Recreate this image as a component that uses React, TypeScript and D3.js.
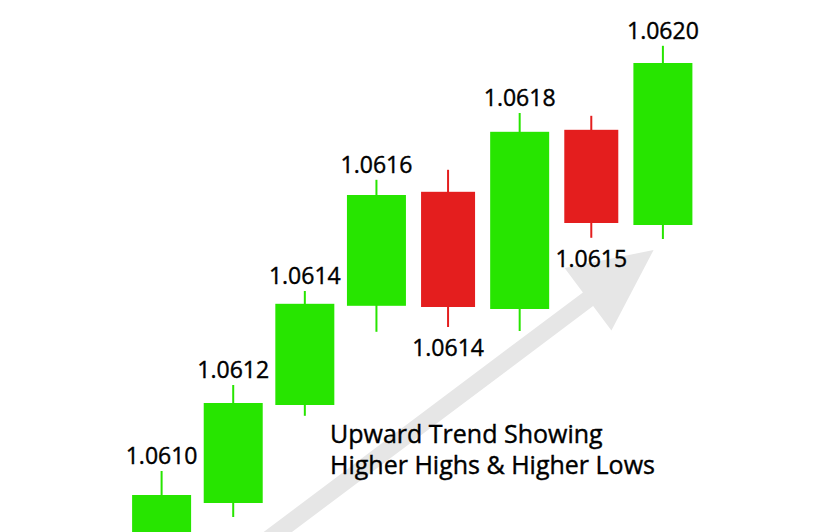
import React from "react";
import * as d3 from "d3";

const W = 834;
const H = 532;

// Candle data (EUR/USD style prices)
const candleIndex = [0, 1, 2, 3, 4, 5, 6, 7];
const opens = [1.060808, 1.06092, 1.061165, 1.061413, 1.061698, 1.061405, 1.061853, 1.061615];
const closes = [1.06094, 1.06117, 1.061418, 1.06169, 1.06141, 1.061848, 1.06162, 1.06202];
const highs = [1.061, 1.061215, 1.06145, 1.061728, 1.061753, 1.061895, 1.061888, 1.062063];
const lows = [1.060778, 1.060885, 1.061138, 1.061348, 1.06136, 1.06135, 1.061583, 1.06158];
const labelTexts = ["1.0610", "1.0612", "1.0614", "1.0616", "1.0614", "1.0618", "1.0615", "1.0620"];

// Trend arrow (index, price) from tail to tip
const arrowIdx = [1.12, 6.87];
const arrowPrice = [1.06078, 1.0615525];

const captionLines = ["Upward Trend Showing", "Higher Highs & Higher Lows"];

const GREEN = "#27E500";
const RED = "#E41E1E";
const ARROW = "#E6E6E6";
const FONT = "'Open Sans', 'Noto Sans', sans-serif";

export default function App() {
  const x = d3.scaleLinear().domain([0, 7]).range([161.6, 662.9]);
  const y = d3.scaleLinear().domain([1.06, 1.0625]).range([871, -129]);

  // arrow geometry
  const tx = x(arrowIdx[1]);
  const ty = y(arrowPrice[1]);
  const sx = x(arrowIdx[0]);
  const sy = y(arrowPrice[0]);
  const len = Math.hypot(tx - sx, ty - sy);
  const ux = (tx - sx) / len;
  const uy = (ty - sy) / len;
  const nx = -uy;
  const ny = ux;
  const headLen = 82;
  const headHalf = 39;
  const shaftHalf = 8.5;
  const bx = tx - headLen * ux;
  const by = ty - headLen * uy;
  const pts: [number, number][] = [
    [sx + shaftHalf * nx, sy + shaftHalf * ny],
    [bx + shaftHalf * nx, by + shaftHalf * ny],
    [bx + headHalf * nx, by + headHalf * ny],
    [tx, ty],
    [bx - headHalf * nx, by - headHalf * ny],
    [bx - shaftHalf * nx, by - shaftHalf * ny],
    [sx - shaftHalf * nx, sy - shaftHalf * ny],
  ];
  const arrowPath = d3.line()(pts) + "Z";

  return (
    <div style={{ position: "absolute", left: 0, top: 0 }}>
      <svg width={W} height={H} style={{ display: "block", background: "#fff" }}>
        <path d={arrowPath} fill={ARROW} />
        {candleIndex.map((i) => {
          const up = closes[i] >= opens[i];
          const color = up ? GREEN : RED;
          const bw = up ? 59 : 54;
          const cx = x(i);
          const top = y(Math.max(opens[i], closes[i]));
          const bot = y(Math.min(opens[i], closes[i]));
          return (
            <g key={i}>
              <line x1={cx} x2={cx} y1={y(highs[i])} y2={y(lows[i])} stroke={color} strokeWidth={2} />
              <rect x={cx - bw / 2} y={top} width={bw} height={bot - top} fill={color} />
            </g>
          );
        })}
        {candleIndex.map((i) => {
          const up = closes[i] >= opens[i];
          const cx = x(i);
          const ly = up ? y(highs[i]) - 7 : y(lows[i]) + 29;
          return (
            <text
              key={"l" + i}
              x={cx}
              y={ly}
              textAnchor="middle"
              fontFamily={FONT}
              fontSize={23}
              fill="#000"
              stroke="#000"
              strokeWidth={0.4}
            >
              {labelTexts[i]}
            </text>
          );
        })}
        {captionLines.map((t, k) => (
          <text
            key={"c" + k}
            x={330}
            y={443 + k * 31}
            fontFamily={FONT}
            fontSize={25}
            fill="#000"
            stroke="#000"
            strokeWidth={0.4}
          >
            {t}
          </text>
        ))}
      </svg>
    </div>
  );
}
